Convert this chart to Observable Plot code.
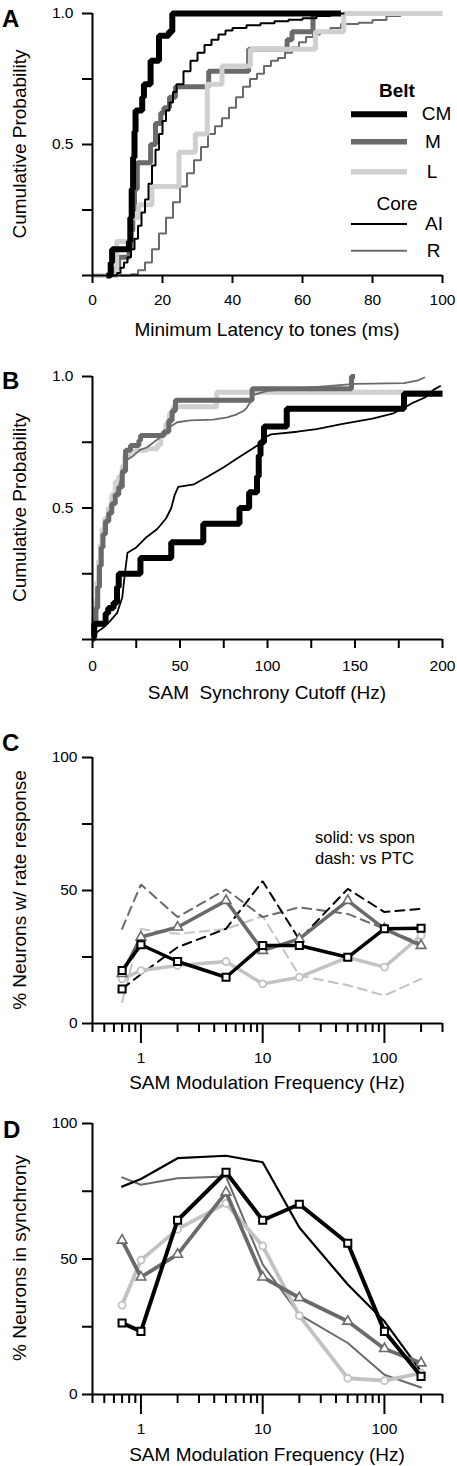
<!DOCTYPE html>
<html><head><meta charset="utf-8">
<script src="https://cdn.jsdelivr.net/npm/d3@7"></script>
<script src="https://cdn.jsdelivr.net/npm/@observablehq/plot@0.6"></script>
<style>
html,body{margin:0;padding:0;background:#fff;}
#wrap{position:relative;width:457px;height:1466px;overflow:hidden;font-family:"Liberation Sans",Arial,Helvetica,sans-serif;}
#wrap svg{position:absolute;left:0;}
</style></head><body><div id="wrap"></div>
<script>
// ---------- Panel A: minimum latency to tones (ms) vs cumulative probability ----------
const latCM = [[4,0],[5.2,0.05],[5.6,0.1],[10.4,0.13],[10.8,0.22],[11.2,0.33],[11.6,0.45],[12,0.55],[12.3,0.63],[14.2,0.68],[14.7,0.73],[16.6,0.82],[19,0.915],[21.8,0.93],[22.8,1],[71,1]];
const latM  = [[0,0],[6.5,0.03],[7.5,0.07],[10.5,0.1],[11,0.17],[11.5,0.25],[12,0.33],[12.8,0.43],[16.6,0.5],[18,0.58],[19.5,0.62],[20.4,0.64],[22,0.68],[23.7,0.72],[33.2,0.78],[44.6,0.864],[55.6,0.9],[57,0.93],[63,1],[70,1]];
const latL  = [[0,0],[6.9,0.13],[10.9,0.22],[13.2,0.27],[17,0.34],[24.7,0.47],[29.4,0.54],[32.8,0.73],[37,0.8],[45.1,0.864],[63.7,0.93],[71.8,1],[100,1]];
const latAI = [[5,0],[7,0.01],[8,0.03],[9,0.05],[10,0.07],[11,0.1],[12,0.14],[13,0.19],[14,0.24],[15,0.29],[16,0.35],[17,0.42],[18,0.48],[19,0.54],[20,0.59],[21,0.63],[22,0.66],[23,0.7],[24,0.73],[26,0.78],[28,0.82],[30,0.85],[32,0.88],[34,0.9],[36,0.92],[38,0.935],[40,0.945],[44,0.955],[48,0.963],[52,0.97],[56,0.976],[60,0.982],[64,0.99],[68,1],[72,1]];
const latR  = [[8,0],[11,0.005],[13,0.02],[15,0.05],[17,0.1],[19,0.16],[21,0.22],[23,0.28],[25,0.34],[27,0.39],[29,0.44],[31,0.49],[33,0.54],[35,0.57],[37,0.6],[39,0.64],[41,0.68],[43,0.72],[45,0.75],[47,0.77],[49,0.8],[51,0.82],[53,0.83],[55,0.85],[57,0.87],[59,0.89],[61,0.91],[63,0.92],[65,0.93],[68,0.945],[71,0.96],[76,0.965],[80,0.975],[84,0.99],[88,1],[90,1]];
const latTicks = [0,20,40,60,80,100];
const probTicks = [0,0.25,0.5,0.75,1];
const probLabels = [0.5,1];

// ---------- Panel B: SAM synchrony cutoff (Hz) ----------
const synCM = [[0,0.01],[1,0.06],[7.5,0.1],[9,0.12],[12,0.14],[14,0.2],[15,0.25],[27.4,0.31],[45,0.37],[63.3,0.44],[84,0.5],[89.5,0.56],[94,0.62],[95,0.7],[96,0.75],[98,0.81],[111,0.877],[178,0.934],[200,0.934]];
const synM  = [[0,0],[1,0.05],[2,0.12],[3,0.2],[4,0.28],[5,0.35],[6,0.4],[7.4,0.45],[9.3,0.48],[11,0.516],[13,0.55],[15,0.58],[17,0.64],[18.9,0.72],[21.7,0.738],[26.5,0.757],[27.5,0.776],[40.8,0.79],[43.6,0.833],[45.5,0.87],[47.4,0.91],[91.2,0.953],[148,1],[150,1]];
const synL  = [[0,0.03],[0.5,0.08],[1.5,0.15],[2.5,0.22],[3.5,0.3],[4.5,0.36],[5.5,0.42],[7,0.46],[9,0.5],[11,0.55],[13,0.6],[15,0.62],[17,0.66],[18.5,0.7],[21,0.71],[24,0.72],[31,0.725],[37,0.74],[39,0.78],[42,0.82],[44,0.86],[46,0.885],[71,0.94],[200,0.94]];
const synAI = [[0,0.01],[3,0.03],[6.5,0.047],[10,0.07],[14,0.1],[17,0.16],[18.5,0.25],[20,0.33],[25,0.35],[31,0.39],[37,0.42],[42,0.46],[45,0.5],[47,0.55],[49,0.58],[58,0.59],[66,0.62],[75,0.655],[83,0.69],[90,0.72],[96,0.745],[99,0.77],[102,0.78],[117,0.79],[128,0.8],[143,0.82],[160,0.84],[172,0.86],[178,0.88],[183,0.9],[190,0.92],[195,0.95],[199,0.965]];
const synR  = [[0,0.02],[1.5,0.1],[3,0.2],[4.5,0.3],[6,0.37],[7.5,0.42],[9,0.46],[11,0.5],[13,0.54],[15,0.58],[17,0.63],[19,0.68],[23.6,0.7],[27,0.72],[31,0.73],[35,0.75],[39,0.77],[42,0.79],[44.6,0.81],[48.4,0.826],[56,0.833],[69,0.836],[77,0.845],[82,0.855],[86.5,0.87],[88,0.88],[90,0.9],[92,0.93],[100,0.945],[150,0.972],[178,0.975],[186,0.985],[190,0.997]];
const synTicks = [0,25,50,75,100,125,150,175,200];

// ---------- Panels C and D: SAM modulation frequency (Hz) ----------
const freqs = [0.7,1,2,5,10,20,50,100,200];
const rateCM_spon = [19.9,29.6,23.3,17.4,29.3,29.3,24.9,35.6,35.8];
const rateM_spon  = [18.7,32.5,36.2,46.2,27.4,31.8,46.2,35.6,29.3];
const rateL_spon  = [16.8,19.9,21.8,23.3,14.9,17.4,24.9,21.2,33.1];
const rateCM_ptc  = [13.0,18.5,28.7,35.6,53.5,31.5,50.6,41.9,43.1];
const rateM_ptc   = [35.6,52.3,40.0,50.4,40.0,43.7,41.2,35.6,30.0];
const rateL_ptc   = [8.0,35.5,33.7,35.5,40.4,18.0,14.4,10.5,16.8];
const syncCM = [26.4,23.3,64.3,82.0,64.3,70.2,55.8,23.3,6.7];
const syncM  = [56.9,43.3,51.7,74.6,43.3,35.7,27.0,16.9,11.6];
const syncL  = [33.0,49.6,61.0,70.5,54.8,29.1,6.0,5.1,7.9];
const syncAI = [76.7,79.5,87.2,88.1,85.7,61.6,40.6,27.0,8.5];
const syncR  = [80.1,77.4,79.8,80.4,48.0,29.5,19.0,7.3,2.6];
const freqMajor = [1,10,100];
const freqMinor = [0.4,0.5,0.6,0.7,0.8,0.9,2,3,4,5,6,7,8,9,20,30,40,50,60,70,80,90,200,300];
const pctTicks = [0,25,50,75,100];
const pctLabels = [0,50,100];

// ---------- styles ----------
const BLACK = "#000", DARK = "#6a6a6a", LIGHT_AB = "#d0d0d0", LIGHT_CD = "#c2c2c2";
const FONT = "Liberation Sans, Arial, Helvetica, sans-serif";
const wrap = document.getElementById("wrap");
const pairs = a => a.map(([x, y]) => ({x, y}));
const series = vals => freqs.map((f, i) => ({x: f, y: vals[i]}));

function place(svg, top) { svg.style.top = top + "px"; wrap.appendChild(svg); }
function base(opts) {
  return Plot.plot({
    width: 457, marginLeft: 92, marginRight: 15,
    style: {fontFamily: FONT, fontSize: "15.5px", color: "black", background: "transparent", overflow: "visible"},
    ...opts
  });
}
const stepLine = (d, stroke, w, curve = "step-after") => Plot.line(pairs(d), {x: "x", y: "y", curve, stroke, strokeWidth: w, strokeLinejoin: "miter", strokeLinecap: "butt"});

// Panel A
place(base({
  height: 345, marginTop: 13, marginBottom: 70,
  x: {domain: [0, 100], axis: null},
  y: {domain: [0, 1], axis: null},
  marks: [
    stepLine(latR, DARK, 2),
    stepLine(latM, DARK, 5),
    stepLine(latL, LIGHT_AB, 5),
    stepLine(latAI, BLACK, 2),
    stepLine(latCM, BLACK, 6),
    Plot.ruleX([0], {strokeWidth: 2}),
    Plot.ruleY([0], {strokeWidth: 2}),
    Plot.axisY({ticks: probTicks, tickSize: 10, tickPadding: 9, strokeWidth: 2, fontSize: 15.5, label: null,
      tickFormat: d => probLabels.includes(d) ? d.toFixed(1) : ""}),
    Plot.axisX({ticks: latTicks, tickSize: 8, tickPadding: 10, strokeWidth: 2, fontSize: 15.5, label: null,
      tickFormat: d => String(d)})
  ]
}), 0);

// Panel B
place(base({
  height: 354, marginTop: 31, marginBottom: 60,
  x: {domain: [0, 200], axis: null},
  y: {domain: [0, 1], axis: null},
  marks: [
    stepLine(synL, LIGHT_AB, 5),
    stepLine(synM, DARK, 5),
    stepLine(synR, DARK, 1.8, "linear"),
    stepLine(synAI, BLACK, 1.8, "linear"),
    stepLine(synCM, BLACK, 6),
    Plot.ruleX([0], {strokeWidth: 2}),
    Plot.ruleY([0], {strokeWidth: 2}),
    Plot.axisY({ticks: probTicks, tickSize: 10, tickPadding: 9, strokeWidth: 2, fontSize: 15.5, label: null,
      tickFormat: d => probLabels.includes(d) ? d.toFixed(1) : ""}),
    Plot.axisX({ticks: synTicks, tickSize: 9, tickPadding: 11, strokeWidth: 2, fontSize: 15.5, label: null,
      tickFormat: d => d % 50 === 0 ? String(d) : ""})
  ]
}), 345);

function freqAxes() {
  return [
    Plot.ruleX([0.4], {strokeWidth: 2}),
    Plot.ruleY([0], {strokeWidth: 2}),
    Plot.axisY({ticks: pctTicks, tickSize: 10, tickPadding: 5, strokeWidth: 2, fontSize: 15.5, label: null,
      tickFormat: d => pctLabels.includes(d) ? String(d) : ""}),
    Plot.axisX({ticks: freqMinor, tickSize: 9, strokeWidth: 2, label: null, tickFormat: () => ""}),
    Plot.axisX({ticks: freqMajor, tickSize: 20, tickPadding: 8, strokeWidth: 2, fontSize: 15.5, label: null,
      tickFormat: d => String(d)})
  ];
}
const ln = (vals, stroke, w, dash) => Plot.line(series(vals), {x: "x", y: "y", stroke, strokeWidth: w, strokeDasharray: dash, strokeLinejoin: "miter"});
const sq = vals => Plot.dot(series(vals), {x: "x", y: "y", symbol: "square", r: 4, fill: "white", stroke: BLACK, strokeWidth: 2});
const tri = vals => Plot.dot(series(vals), {x: "x", y: "y", symbol: "triangle", r: 3.6, fill: "white", stroke: DARK, strokeWidth: 1.6});
const circ = (vals, c) => Plot.dot(series(vals), {x: "x", y: "y", symbol: "circle", r: 3.5, fill: "white", stroke: c, strokeWidth: 1.8});

// Panel C
place(base({
  height: 373, marginTop: 47, marginBottom: 60,
  x: {type: "log", domain: [0.4, 300], axis: null},
  y: {domain: [0, 100], axis: null},
  marks: [
    ln(rateL_ptc, LIGHT_CD, 2, "9,6"),
    ln(rateM_ptc, DARK, 2, "9,6"),
    ln(rateCM_ptc, BLACK, 2, "9,6"),
    ln(rateL_spon, LIGHT_CD, 3.5),
    circ(rateL_spon, LIGHT_CD),
    ln(rateM_spon, DARK, 3.5),
    tri(rateM_spon),
    ln(rateCM_spon, BLACK, 3.5),
    Plot.dot(series(rateCM_ptc).slice(0, 1), {x: "x", y: "y", symbol: "square", r: 4, fill: "white", stroke: BLACK, strokeWidth: 2}),
    sq(rateCM_spon),
    ...freqAxes()
  ]
}), 710);

// Panel D
place(base({
  height: 369, marginTop: 28, marginBottom: 70,
  x: {type: "log", domain: [0.4, 300], axis: null},
  y: {domain: [0, 100], axis: null},
  marks: [
    ln(syncR, DARK, 2),
    ln(syncAI, BLACK, 2.2),
    ln(syncL, LIGHT_CD, 3.8),
    circ(syncL, LIGHT_CD),
    ln(syncM, DARK, 3.8),
    tri(syncM),
    ln(syncCM, BLACK, 4),
    sq(syncCM),
    ...freqAxes()
  ]
}), 1095);

// ---------- overlay: panel letters, axis titles, legends ----------
const ov = d3.create("svg").attr("width", 457).attr("height", 1466)
  .style("top", "0px").style("pointer-events", "none")
  .attr("font-family", FONT).attr("fill", "black");
const T = (x, y, s, size, o = {}) => {
  const t = ov.append("text").attr("x", x).attr("y", y).attr("font-size", size).text(s);
  if (o.bold) t.attr("font-weight", "bold");
  if (o.anchor) t.attr("text-anchor", o.anchor);
  if (o.rot) t.attr("transform", `rotate(-90 ${x} ${y})`);
  return t;
};
// letters
T(2, 27, "A", 24, {bold: 1});
T(2, 389, "B", 24, {bold: 1});
T(2, 751, "C", 24, {bold: 1});
T(3, 1138, "D", 24, {bold: 1});
// y titles
T(26, 144, "Cumulative Probability", 19, {anchor: "middle", rot: 1});
T(26, 507.5, "Cumulative Probability", 19, {anchor: "middle", rot: 1});
T(26, 890, "% Neurons w/ rate response", 19, {anchor: "middle", rot: 1});
T(26, 1258, "% Neurons in synchrony", 19, {anchor: "middle", rot: 1});
// x titles
T(267, 336, "Minimum Latency to tones (ms)", 19, {anchor: "middle"});
T(267, 698.5, "SAM\u00a0 Synchrony Cutoff (Hz)", 19, {anchor: "middle"});
T(267, 1089, "SAM Modulation Frequency (Hz)", 19, {anchor: "middle"});
T(267, 1460.5, "SAM Modulation Frequency (Hz)", 19, {anchor: "middle"});
// legend A
const legendItems = [
  {name: "CM", color: BLACK, w: 6, y: 114.3, ty: 120, tx: 421.7},
  {name: "M", color: DARK, w: 5.5, y: 141.7, ty: 148, tx: 425},
  {name: "L", color: LIGHT_AB, w: 5.5, y: 171.7, ty: 178, tx: 426.7},
  {name: "AI", color: BLACK, w: 2, y: 224, ty: 230, tx: 425},
  {name: "R", color: DARK, w: 2, y: 250.7, ty: 257, tx: 426.7}
];
T(397, 97, "Belt", 19, {bold: 1, anchor: "middle"});
T(397, 210, "Core", 19, {anchor: "middle"});
for (const it of legendItems) {
  ov.append("line").attr("x1", 351).attr("x2", 407).attr("y1", it.y).attr("y2", it.y)
    .attr("stroke", it.color).attr("stroke-width", it.w);
  T(it.tx, it.ty, it.name, 19);
}
// panel C note
T(315, 843, "solid: vs spon", 16.5);
T(315, 863.5, "dash: vs PTC", 16.5);
wrap.appendChild(ov.node());
</script></body></html>
